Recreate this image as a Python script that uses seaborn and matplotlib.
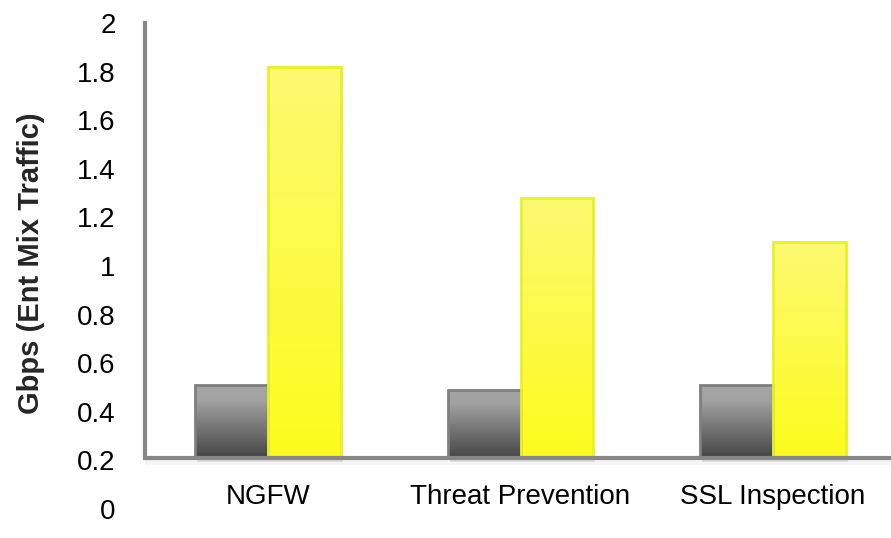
import numpy as np
import pandas as pd
import matplotlib
matplotlib.use('Agg')
import matplotlib.pyplot as plt
import matplotlib.colors as mcolors
import matplotlib.transforms as mtransforms
import seaborn as sns

# --- dados ---
categorias = ['NGFW', 'Threat Prevention', 'SSL Inspection']
series = ['Antes', 'Depois']
valores_cinza = [0.51, 0.49, 0.51]
valores_amarelo = [1.82, 1.28, 1.10]
base = 0.21  # onde o eixo x cruza o eixo y
yticks = [0, 0.2, 0.4, 0.6, 0.8, 1, 1.2, 1.4, 1.6, 1.8, 2]
ytick_labels = ['0', '0.2', '0.4', '0.6', '0.8', '1', '1.2', '1.4', '1.6', '1.8', '2']

df = pd.DataFrame({
    'categoria': categorias * 2,
    'serie': [series[0]] * 3 + [series[1]] * 3,
    'topo': valores_cinza + valores_amarelo,
})
df['altura'] = df['topo'] - base

sns.set_style('white')
plt.rcParams['font.family'] = ['Liberation Sans', 'DejaVu Sans']

fig = plt.figure(figsize=(8.91, 5.38), dpi=100)
ax = fig.add_axes([145 / 891, 1 - 509 / 538, 746 / 891, 486 / 538])

sns.barplot(data=df, x='categoria', y='altura', hue='serie', order=categorias,
            hue_order=series, palette=['#808080', '#fcfb40'], saturation=1,
            width=0.575, bottom=base, legend=False, ax=ax, zorder=3)

# --- gradiente nas barras (e sombra leve) ---
gradientes = {
    '#808080': ([(0, '#a5a5a5'), (0.2, '#a2a2a2'), (1, '#454545')], '#7f7f7f'),
    '#fcfb40': ([(0, '#fdf972'), (1, '#fcfc1c')], '#e6f227'),
}
sombra = mtransforms.offset_copy(ax.transData, fig=fig, x=2, y=-4, units='dots')
for patch in list(ax.patches):
    cor = mcolors.to_hex(patch.get_facecolor())
    if cor not in gradientes:
        continue
    cores, borda = gradientes[cor]
    cmap = mcolors.LinearSegmentedColormap.from_list('g', cores)
    x0, y0 = patch.get_x(), patch.get_y()
    w, h = patch.get_width(), patch.get_height()
    ax.add_patch(plt.Rectangle((x0, y0), w, h, transform=sombra,
                               facecolor='#000000', alpha=0.10, lw=0, zorder=1))
    grad = np.linspace(0, 1, 256).reshape(-1, 1)
    img = ax.imshow(grad, cmap=cmap, aspect='auto', origin='upper',
                    extent=[x0, x0 + w, y0, y0 + h], zorder=2)
    img.set_clip_path(patch)
    patch.set_facecolor('none')
    patch.set_edgecolor(borda)
    patch.set_linewidth(2)
    patch.set_zorder(4)

ax.set_xlim(-0.487, 2.467)
ax.set_ylim(0, 2)

# --- eixos ---
for lado in ['top', 'right', 'bottom']:
    ax.spines[lado].set_visible(False)
ax.spines['left'].set_bounds(base, 2)
ax.spines['left'].set_color('#878787')
ax.spines['left'].set_linewidth(3)
ax.axhline(base, color='#878787', linewidth=3, zorder=5)
sombra_eixo = mtransforms.offset_copy(ax.transData, fig=fig, y=-3, units='dots')
ax.plot([-0.487, 2.467], [base, base], color='#000000', alpha=0.04,
        linewidth=6, zorder=1, transform=sombra_eixo)
ax.set_xlim(-0.487, 2.467)

ax.set_yticks(yticks)
ax.set_yticklabels(ytick_labels)
ax.tick_params(axis='y', length=0, pad=21, labelsize=20, labelcolor='black')
ax.tick_params(axis='x', length=0, pad=-18, labelsize=20, labelcolor='black')
ax.set_xlabel('')
ax.set_ylabel('Gbps (Ent Mix Traffic)', fontsize=21, fontweight='bold')
ax.yaxis.set_label_coords(-0.134, 0.506)

fig.savefig('out.png', dpi=100)
